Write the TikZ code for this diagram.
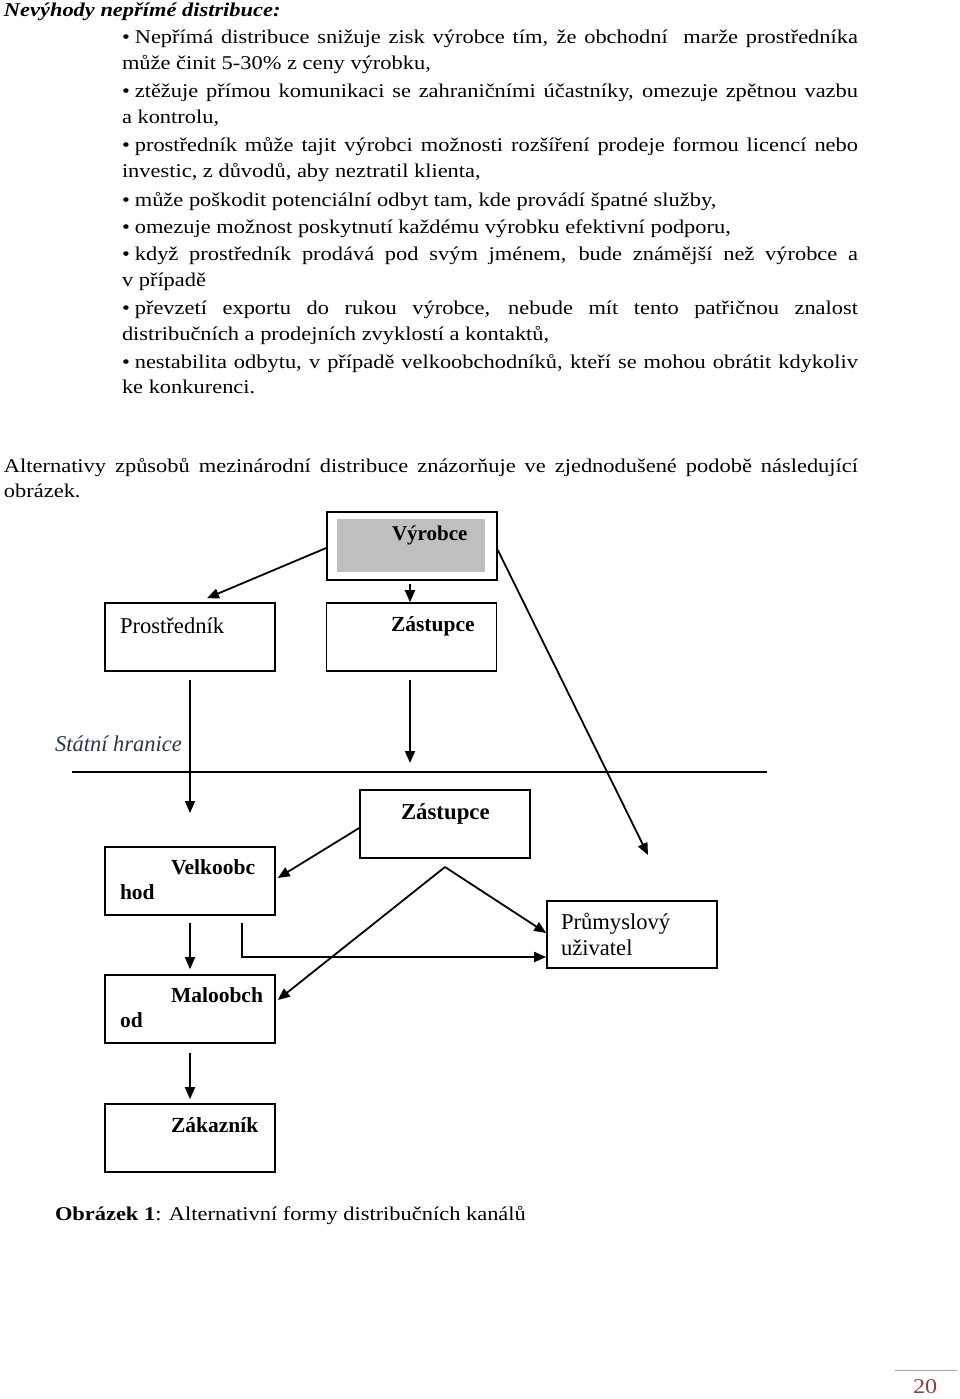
\documentclass[tikz,border=0pt]{standalone}
\usepackage{fontspec}
\setmainfont{Liberation Serif}[FakeStretch=1.15]
\newfontfamily\diagfont{Liberation Serif}
\usetikzlibrary{arrows.meta,calc}
\definecolor{hranice}{RGB}{40,55,80}
\definecolor{pagenum}{RGB}{150,60,60}
\newcommand{\bul}{•\kern5pt}
\begin{document}
\begin{tikzpicture}[x=1pt,y=-1pt,
  txt/.style={anchor=base west,inner sep=0pt,outer sep=0pt,font=\fontsize{19.5}{24}\selectfont},
  dtxt/.style={anchor=base west,inner sep=0pt,outer sep=0pt,font=\diagfont\fontsize{22.6}{24}\selectfont},
  dbtxt/.style={anchor=base west,inner sep=0pt,outer sep=0pt,font=\diagfont\fontsize{21.5}{24}\selectfont\bfseries},
  box/.style={draw,line width=1.6pt,minimum width=170pt,minimum height=68pt,inner sep=0pt},
  arr/.style={line width=1.8pt,-{Triangle[length=12pt,width=10pt]}},
  ln/.style={line width=1.8pt}]
\useasboundingbox (0,0) rectangle (960,1399);
% ---- text ----
\node[txt,font=\fontsize{19.5}{24}\selectfont\bfseries\itshape] (title) at (4,17) {Nevýhody nepřímé distribuce:};
\node[txt] (l1) at (122,44) {\makebox[736pt][s]{\bul Nepřímá distribuce snižuje zisk výrobce tím, že obchodní \ marže prostředníka}};
\node[txt] (l2) at (122,70) {může činit 5-30\% z ceny výrobku,};
\node[txt] (l3) at (122,98) {\makebox[736pt][s]{\bul ztěžuje přímou komunikaci se zahraničními účastníky, omezuje zpětnou vazbu}};
\node[txt] (l4) at (122,124) {a kontrolu,};
\node[txt] (l5) at (122,152) {\makebox[736pt][s]{\bul prostředník může tajit výrobci možnosti rozšíření prodeje formou licencí nebo}};
\node[txt] (l6) at (122,178) {investic, z důvodů, aby neztratil klienta,};
\node[txt] (l7) at (122,206) {\bul může poškodit potenciální odbyt tam, kde provádí špatné služby,};
\node[txt] (l8) at (122,233) {\bul omezuje možnost poskytnutí každému výrobku efektivní podporu,};
\node[txt] (l9) at (122,260) {\makebox[736pt][s]{\bul když prostředník prodává pod svým jménem, bude známější než výrobce a}};
\node[txt] (l10) at (122,286) {v případě};
\node[txt] (l11) at (122,314) {\makebox[736pt][s]{\bul převzetí exportu do rukou výrobce, nebude mít tento patřičnou znalost}};
\node[txt] (l12) at (122,340) {distribučních a prodejních zvyklostí a kontaktů,};
\node[txt] (l13) at (122,368) {\makebox[736pt][s]{\bul nestabilita odbytu, v případě velkoobchodníků, kteří se mohou obrátit kdykoliv}};
\node[txt] (l14) at (122,393) {ke konkurenci.};
\node[txt] (p1) at (4,472) {\makebox[854pt][s]{Alternativy způsobů mezinárodní distribuce znázorňuje ve zjednodušené podobě následující}};
\node[txt] (p2) at (4,497) {obrázek.};
% ---- boxes ----
\node[box] (vyr) at (412,546) {};
\fill[black!25] (337,519) rectangle (485,572);
\node[dbtxt,font=\diagfont\fontsize{21}{24}\selectfont\bfseries] (vyrt) at (392,540) {Výrobce};
\node[box] (prost) at (190,637) {};
\node[dtxt] (prostt) at (120,633) {Prostředník};
\node[box] (zast1) at (411.5,637) {};
\node[dbtxt] (zast1t) at (391,631) {Zástupce};
\node[box] (zast2) at (445,824) {};
\node[dbtxt,font=\diagfont\fontsize{22.8}{24}\selectfont\bfseries] (zast2t) at (401,819) {Zástupce};
\node[box] (velk) at (190,881) {};
\node[dbtxt] (velkt1) at (171,874) {Velkoobc};
\node[dbtxt] (velkt2) at (120,899) {hod};
\node[box] (malo) at (190,1009) {};
\node[dbtxt] (malot1) at (171,1002) {Maloobch};
\node[dbtxt] (malot2) at (120,1027) {od};
\node[box] (zak) at (190,1138) {};
\node[dbtxt] (zakt) at (171,1132) {Zákazník};
\node[box,minimum height=67pt] (prum) at (632,934.5) {};
\node[dtxt] (prumt1) at (561,929) {Průmyslový};
\node[dtxt] (prumt2) at (561,955) {uživatel};
% ---- border ----
\node[dtxt,font=\diagfont\fontsize{22.5}{24}\selectfont\itshape,text=hranice] (hr) at (55,751) {Státní hranice};
\draw[line width=1.5pt] (72,772) -- (767,772);
% ---- connectors ----
\coordinate (pend) at (190,813);
\coordinate (z1end) at (410,763);
\coordinate (vend) at (648,855);
\coordinate (apex) at (445,867);
\draw[arr] ([yshift=-2pt]vyr.west) -- ([xshift=17pt,yshift=4pt]prost.north);
\draw[arr] ([xshift=-2pt,yshift=-3pt]vyr.south) -- ([xshift=-1.5pt]zast1.north);
\draw[arr] ([yshift=-8pt]prost.south) -- (pend);
\draw[arr] ([xshift=-1.5pt,yshift=-8pt]zast1.south) -- (z1end);
\draw[arr] ([yshift=-4pt]vyr.east) -- (vend);
\draw[arr] ([yshift=-4pt]zast2.west) -- ([yshift=3pt,xshift=2pt]velk.east);
\draw[arr] (apex) -- ([yshift=1.5pt]prum.west);
\draw[arr] (apex) -- ([xshift=2pt,yshift=9pt]malo.east);
\draw[arr] ([xshift=52pt,yshift=-7pt]velk.south) |- ([yshift=-22.5pt]prum.west);
\draw[arr] ([yshift=-7pt]velk.south) -- ([yshift=5pt]malo.north);
\draw[arr] ([yshift=-9pt]malo.south) -- ([yshift=4pt]zak.north);
% ---- caption ----
\node[txt] (cap) at (55,1220) {\textbf{Obrázek 1}: Alternativní formy distribučních kanálů};
% ---- page number ----
\draw[gray!70,line width=1pt] (895,1370) -- (957,1370);
\node[txt,text=pagenum,font=\fontsize{21}{24}\selectfont] (pg) at (913,1393) {20};
\end{tikzpicture}
\end{document}
